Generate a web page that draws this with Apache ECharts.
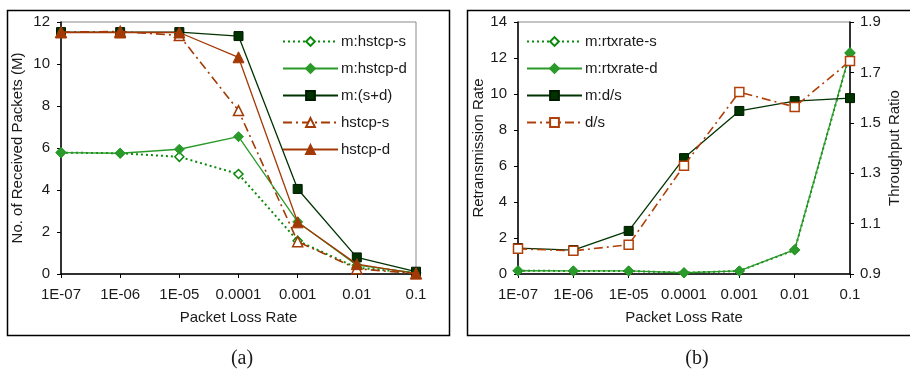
<!DOCTYPE html>
<html>
<head>
<meta charset="utf-8">
<script src="https://cdn.jsdelivr.net/npm/echarts@6/dist/echarts.min.js"></script>
<style>
  html, body { margin: 0; padding: 0; background: #fff; }
  #chart { width: 910px; height: 372px; }
</style>
</head>
<body>
<div id="chart"></div>
<script>
// x categories shared by both panels
const lossRates = ['1E-07', '1E-06', '1E-05', '0.0001', '0.001', '0.01', '0.1'];

// panel (a): received packets (M)
const mHstcpS = [5.78, 5.75, 5.58, 4.76, 1.58, 0.3, 0.05];
const mHstcpD = [5.78, 5.75, 5.94, 6.54, 2.48, 0.42, 0.05];
const mSumSD  = [11.52, 11.52, 11.52, 11.33, 4.05, 0.79, 0.11];
const hstcpS  = [11.52, 11.55, 11.36, 7.78, 1.54, 0.25, 0.02];
const hstcpD  = [11.5, 11.5, 11.5, 10.32, 2.46, 0.47, 0.02];

// panel (b): retransmission rate (left) and throughput ratio (right)
const mRtxS = [0.18, 0.17, 0.17, 0.07, 0.17, 1.33, 12.26];
const mRtxD = [0.18, 0.17, 0.17, 0.07, 0.17, 1.35, 12.3];
const mDs   = [1.003, 0.995, 1.071, 1.36, 1.547, 1.586, 1.598];
const dS    = [1.0, 0.992, 1.016, 1.33, 1.622, 1.563, 1.745];

const FONT = 'Liberation Sans, Arial, sans-serif';
const TXT = '#1a1a1a';

const GREEN_DOT = '#0a8a0a';
const GREEN = '#2a9a2a';
const DARK = '#003300';
const BROWN = '#a33a05';

const chart = echarts.init(document.getElementById('chart'));

function xAxisFor(gridIndex) {
  return {
    type: 'category',
    gridIndex: gridIndex,
    data: lossRates,
    boundaryGap: false,
    name: 'Packet Loss Rate',
    nameLocation: 'middle',
    nameGap: 36,
    nameTextStyle: { fontFamily: FONT, fontSize: 15, color: TXT },
    axisLine: { lineStyle: { color: '#000', width: 1.5 } },
    axisTick: { alignWithLabel: true, length: 4, lineStyle: { color: '#000' } },
    axisLabel: { fontFamily: FONT, fontSize: 15, color: TXT, margin: 13, interval: 0 },
    splitLine: { show: false }
  };
}

function valueAxis(gridIndex, opts) {
  return Object.assign({
    type: 'value',
    gridIndex: gridIndex,
    nameLocation: 'middle',
    nameRotate: 90,
    nameTextStyle: { fontFamily: FONT, fontSize: 15, color: TXT },
    axisLine: { show: true, lineStyle: { color: '#000', width: 1.5 } },
    axisTick: { show: true, length: 4, lineStyle: { color: '#000' } },
    axisLabel: { fontFamily: FONT, fontSize: 15, color: TXT, margin: 11 },
    splitLine: { show: false }
  }, opts);
}

function lineSeries(name, data, o) {
  return {
    name: name,
    type: 'line',
    data: data,
    xAxisIndex: o.x,
    yAxisIndex: o.y,
    symbol: o.symbol,
    symbolSize: o.size,
    showAllSymbol: true,
    lineStyle: { color: o.color, width: o.width || 1.3, type: o.dash || 'solid' },
    itemStyle: {
      color: o.hollow ? '#fff' : o.color,
      borderColor: o.border || o.color,
      borderWidth: o.hollow ? 1.5 : 1
    },
    z: o.z || 2,
    animation: false
  };
}

const legendBase = {
  orient: 'vertical', top: 34, padding: 0, itemWidth: 55, itemHeight: 11, itemGap: 12,
  textStyle: { fontFamily: FONT, fontSize: 15, color: TXT, padding: [0, 0, 0, -2] }
};

const option = {
  backgroundColor: '#fff',
  animation: false,
  textStyle: { fontFamily: FONT },
  grid: [
    { left: 61, top: 22, width: 355, height: 252, show: true, borderColor: '#8a8a8a', borderWidth: 1 },
    { left: 518, top: 22, width: 332, height: 252, show: true, borderColor: '#8a8a8a', borderWidth: 1 }
  ],
  xAxis: [xAxisFor(0), xAxisFor(1)],
  yAxis: [
    valueAxis(0, { min: 0, max: 12, interval: 2, name: 'No. of Received Packets (M)', nameGap: 36 }),
    valueAxis(1, { min: 0, max: 14, interval: 2, name: 'Retransmission Rate', nameGap: 31 }),
    valueAxis(1, {
      min: 0.9, max: 1.9, interval: 0.2, position: 'right', name: 'Throughput Ratio', nameGap: 37,
      axisLabel: { fontFamily: FONT, fontSize: 15, color: TXT, margin: 10, formatter: v => v.toFixed(1) }
    })
  ],
  legend: [
    Object.assign({}, legendBase, { left: 282, data: ['m:hstcp-s', 'm:hstcp-d', 'm:(s+d)', 'hstcp-s', 'hstcp-d'] }),
    Object.assign({}, legendBase, { left: 526, data: ['m:rtxrate-s', 'm:rtxrate-d', 'm:d/s', 'd/s'] })
  ],
  series: [
    lineSeries('m:hstcp-s', mHstcpS, { x: 0, y: 0, symbol: 'diamond', size: 9, color: GREEN_DOT, dash: [2, 3], width: 2, hollow: true }),
    lineSeries('m:hstcp-d', mHstcpD, { x: 0, y: 0, symbol: 'diamond', size: 10, color: GREEN }),
    lineSeries('m:(s+d)', mSumSD, { x: 0, y: 0, symbol: 'rect', size: 9, color: DARK, border: '#001a00' }),
    lineSeries('hstcp-s', hstcpS, { x: 0, y: 0, symbol: 'triangle', size: 10, color: BROWN, dash: [9, 4, 2, 4], width: 1.6, hollow: true, z: 3 }),
    lineSeries('hstcp-d', hstcpD, { x: 0, y: 0, symbol: 'triangle', size: 11, color: BROWN, z: 3 }),

    lineSeries('m:rtxrate-s', mRtxS, { x: 1, y: 1, symbol: 'diamond', size: 9, color: GREEN_DOT, dash: [2, 3], width: 2, hollow: true }),
    lineSeries('m:rtxrate-d', mRtxD, { x: 1, y: 1, symbol: 'diamond', size: 10, color: GREEN }),
    lineSeries('m:d/s', mDs, { x: 1, y: 2, symbol: 'rect', size: 9, color: DARK, border: '#001a00' }),
    lineSeries('d/s', dS, { x: 1, y: 2, symbol: 'rect', size: 9, color: '#b0400a', dash: [9, 4, 2, 4], width: 1.6, hollow: true, z: 3 })
  ],
  graphic: [
    { type: 'rect', left: 5, top: 8, shape: { width: 442, height: 325 }, style: { fill: null, stroke: '#000', lineWidth: 1.5 }, silent: true },
    { type: 'rect', left: 465, top: 8, shape: { width: 444, height: 325 }, style: { fill: null, stroke: '#000', lineWidth: 1.5 }, silent: true },
    { type: 'text', x: 242, y: 359, style: { text: '(a)', font: '20px Liberation Serif, Times New Roman, serif', fill: TXT, align: 'center', verticalAlign: 'middle' } },
    { type: 'text', x: 697, y: 359, style: { text: '(b)', font: '20px Liberation Serif, Times New Roman, serif', fill: TXT, align: 'center', verticalAlign: 'middle' } }
  ]
};

chart.setOption(option);
</script>
</body>
</html>
